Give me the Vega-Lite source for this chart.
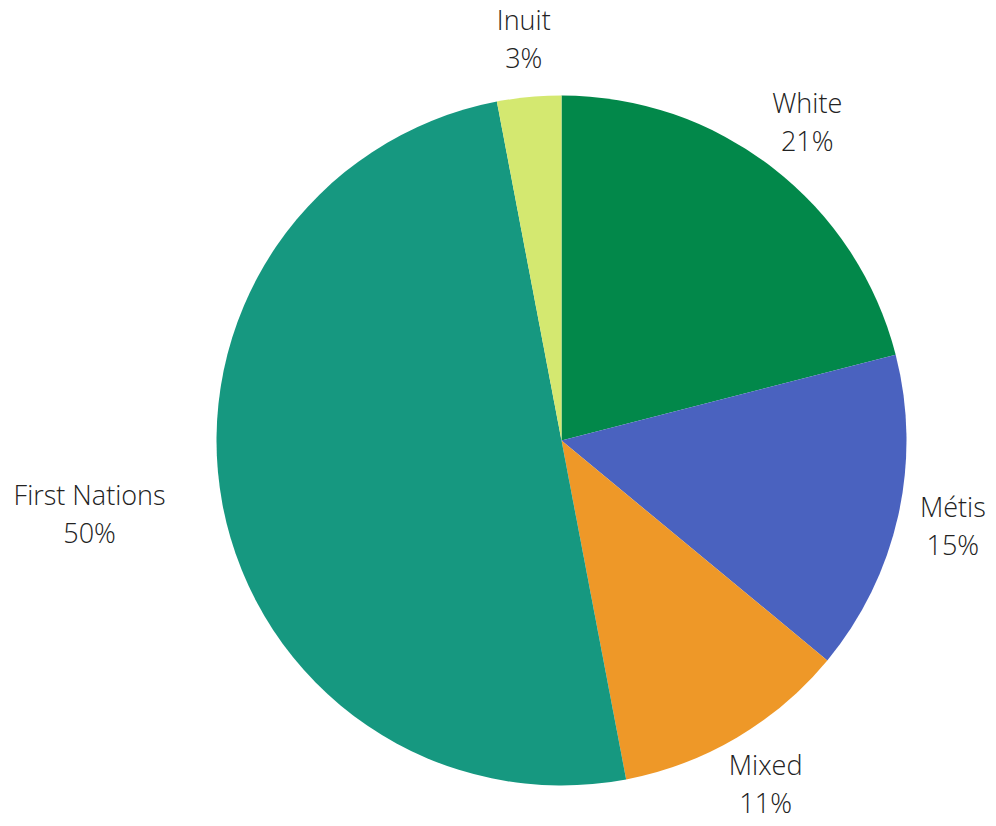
{
  "$schema": "https://vega.github.io/schema/vega-lite/v6.json",
  "autosize": "none",
  "padding": 0,
  "width": 1123,
  "height": 881,
  "background": "white",
  "data": {"values": [
    {"group": "White", "pct": 21, "order": 1},
    {"group": "Métis", "pct": 15, "order": 2},
    {"group": "Mixed", "pct": 11, "order": 3},
    {"group": "First Nations", "pct": 50, "order": 4},
    {"group": "Inuit", "pct": 3, "order": 5}
  ]},
  "transform": [
    {"calculate": "[datum.group, datum.pct + '%']", "as": "label"},
    {"stack": "pct", "groupby": [], "sort": [{"field": "order", "order": "ascending"}], "as": ["t0", "t1"]},
    {"calculate": "(datum.t0 + datum.t1) / 2", "as": "tmid"}
  ],
  "layer": [
    {
      "mark": {"type": "arc", "outerRadius": 345},
      "encoding": {
        "theta": {"field": "t0", "type": "quantitative", "scale": {"domain": [0, 100]}},
        "theta2": {"field": "t1"},
        "color": {
          "field": "group", "type": "nominal", "legend": null,
          "scale": {
            "domain": ["White", "Métis", "Mixed", "First Nations", "Inuit"],
            "range": ["#02884A", "#4A62BF", "#EE9828", "#169880", "#D4E870"]
          }
        }
      }
    },
    {
      "transform": [{"filter": "datum.group !== 'First Nations'"}],
      "mark": {"type": "text", "radius": 401, "dy": -19, "font": "Open Sans", "fontWeight": 300, "fontSize": 27, "lineHeight": 38, "align": "center", "baseline": "middle", "color": "#222222"},
      "encoding": {
        "theta": {"field": "tmid", "type": "quantitative", "scale": {"domain": [0, 100]}},
        "text": {"field": "label"}
      }
    },
    {
      "transform": [{"filter": "datum.group === 'First Nations'"}],
      "mark": {"type": "text", "radius": 401, "dx": -78, "dy": -19, "font": "Open Sans", "fontWeight": 300, "fontSize": 27, "lineHeight": 38, "align": "center", "baseline": "middle", "color": "#222222"},
      "encoding": {
        "theta": {"field": "tmid", "type": "quantitative", "scale": {"domain": [0, 100]}},
        "text": {"field": "label"}
      }
    }
  ],
  "config": {"view": {"stroke": null}}
}
